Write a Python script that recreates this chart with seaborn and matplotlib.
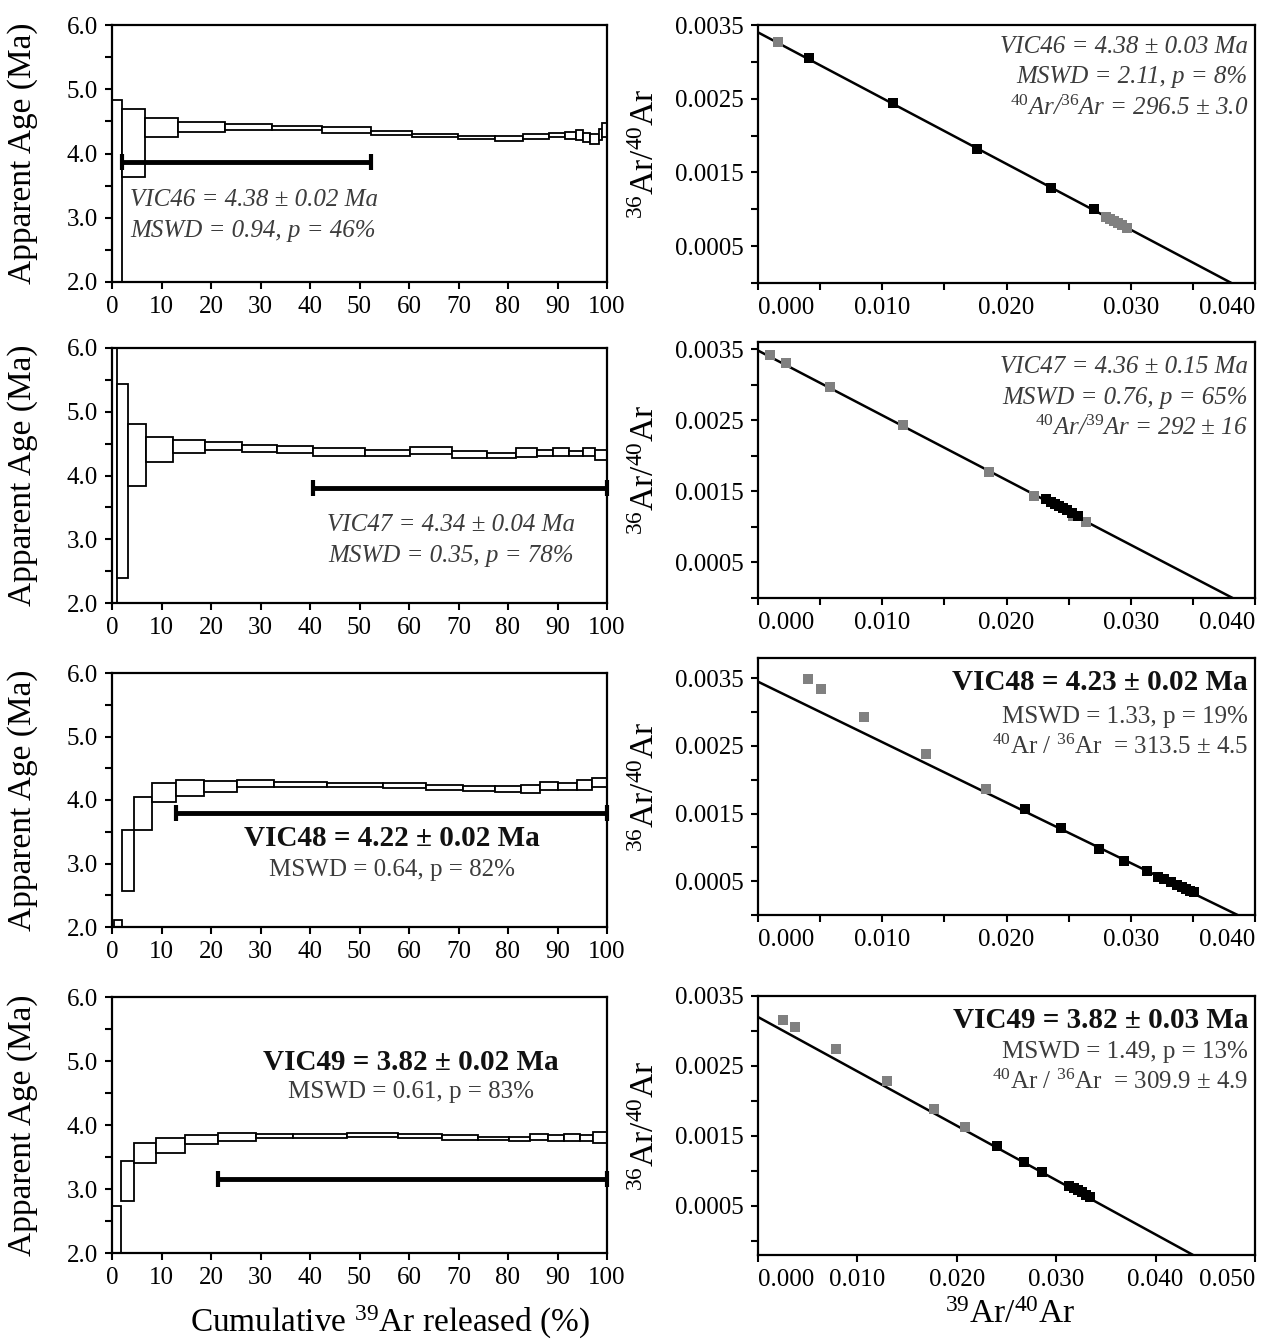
import numpy as np
import pandas as pd
import matplotlib
matplotlib.use('Agg')
import matplotlib.pyplot as plt
import seaborn as sns
from matplotlib.ticker import MultipleLocator, FixedLocator, FormatStrFormatter

sns.set_theme(style='ticks')
plt.rcParams['font.family'] = ['Liberation Serif', 'DejaVu Serif']
plt.rcParams['mathtext.fontset'] = 'custom'
plt.rcParams['mathtext.rm'] = 'Liberation Serif'
plt.rcParams['mathtext.it'] = 'Liberation Serif:italic'
plt.rcParams['mathtext.bf'] = 'Liberation Serif:bold'

# ---------------- age spectra (cumulative 39Ar %, apparent age Ma) ----------------
vic46_edges = [0, 2, 6.7, 13.3, 22.8, 32.4, 42.5, 52.4, 60.7, 69.9, 77.4, 83.1, 88.2, 91.5, 93.7, 95.2, 96.6, 98.3, 99.0, 100]
vic46_hi = [4.84, 4.69, 4.56, 4.49, 4.46, 4.43, 4.41, 4.35, 4.31, 4.28, 4.27, 4.30, 4.32, 4.34, 4.36, 4.32, 4.31, 4.38, 4.47]
vic46_lo = [1.00, 3.64, 4.25, 4.33, 4.37, 4.37, 4.32, 4.29, 4.25, 4.23, 4.19, 4.23, 4.25, 4.22, 4.21, 4.18, 4.15, 4.21, 4.26]
vic46_plateau = [2.0, 52.4, 3.86]

vic47_edges = [0, 1, 3.3, 6.9, 12.4, 18.8, 26.2, 33.4, 40.7, 51.1, 60.3, 68.6, 75.7, 81.6, 85.9, 89.0, 92.4, 95.2, 97.6, 100]
vic47_hi = [7.50, 5.44, 4.81, 4.60, 4.55, 4.52, 4.48, 4.47, 4.43, 4.40, 4.45, 4.38, 4.36, 4.43, 4.40, 4.43, 4.39, 4.43, 4.40]
vic47_lo = [0.50, 2.40, 3.84, 4.21, 4.36, 4.40, 4.37, 4.35, 4.30, 4.30, 4.34, 4.27, 4.27, 4.29, 4.31, 4.30, 4.31, 4.30, 4.25]
vic47_plateau = [40.7, 100.0, 3.81]

vic48_edges = [0.5, 2, 4.5, 8.1, 12.9, 18.6, 25.2, 32.7, 43.5, 54.7, 63.4, 71.0, 77.4, 82.6, 86.5, 90.2, 93.9, 96.9, 100]
vic48_hi = [2.11, 3.52, 4.04, 4.27, 4.31, 4.30, 4.31, 4.28, 4.27, 4.26, 4.23, 4.22, 4.22, 4.23, 4.28, 4.27, 4.31, 4.34]
vic48_lo = [1.00, 2.56, 3.53, 3.97, 4.07, 4.13, 4.20, 4.20, 4.20, 4.19, 4.15, 4.14, 4.13, 4.11, 4.15, 4.15, 4.15, 4.20]
vic48_plateau = [12.9, 100.0, 3.80]

vic49_edges = [0, 1.8, 4.5, 8.8, 14.7, 21.5, 29.1, 36.5, 47.4, 57.7, 66.7, 74.0, 80.3, 84.4, 88.0, 91.4, 94.5, 97.2, 100]
vic49_hi = [2.74, 3.44, 3.72, 3.80, 3.85, 3.875, 3.86, 3.86, 3.875, 3.86, 3.85, 3.82, 3.81, 3.86, 3.85, 3.86, 3.85, 3.89]
vic49_lo = [1.00, 2.82, 3.41, 3.56, 3.70, 3.75, 3.79, 3.80, 3.81, 3.80, 3.77, 3.76, 3.745, 3.76, 3.75, 3.75, 3.75, 3.72]
vic49_plateau = [21.5, 100.0, 3.16]

# ---------------- isochrons (39Ar/40Ar, 36Ar/40Ar) ----------------
vic46_xb = [0.00411, 0.01089, 0.01766, 0.02355, 0.02702]
vic46_yb = [0.00305, 0.00244, 0.00182, 0.00129, 0.00101]
vic46_xg = [0.00161, 0.02798, 0.02831, 0.02863, 0.02895, 0.02927, 0.02968]
vic46_yg = [0.00327, 0.000899, 0.000870, 0.000844, 0.000814, 0.000790, 0.000750]
vic46_line = [0.00340, 0.0381]   # y-intercept, x-intercept

vic47_xb = [0.02315, 0.02355, 0.02387, 0.02419, 0.02452, 0.02484, 0.02524, 0.02573]
vic47_yb = [0.001388, 0.001351, 0.001322, 0.001292, 0.001263, 0.001233, 0.001195, 0.001152]
vic47_xg = [0.00097, 0.00226, 0.00581, 0.01169, 0.01863, 0.02218, 0.02532, 0.02637]
vic47_yg = [0.003417, 0.003305, 0.002967, 0.002433, 0.001772, 0.001434, 0.001153, 0.001069]
vic47_line = [0.00348, 0.0382]

vic48_xb = [0.02145, 0.02435, 0.02742, 0.02944, 0.03129, 0.03218, 0.03266, 0.03323, 0.03371, 0.03411, 0.03444, 0.03476, 0.03508]
vic48_yb = [0.001567, 0.001286, 0.000976, 0.000798, 0.000651, 0.000562, 0.000532, 0.000488, 0.000444, 0.000414, 0.000384, 0.000355, 0.000340]
vic48_xg = [0.00403, 0.00508, 0.00855, 0.01355, 0.01831]
vic48_yg = [0.003489, 0.003342, 0.002928, 0.002381, 0.001863]
vic48_line = [0.00345, 0.0386]

vic49_xb = [0.02404, 0.02677, 0.02859, 0.03131, 0.03182, 0.03222, 0.03263, 0.03303, 0.03343]
vic49_yb = [0.001357, 0.001129, 0.000986, 0.000786, 0.000757, 0.000729, 0.000700, 0.000657, 0.000629]
vic49_xg = [0.00253, 0.00374, 0.00788, 0.01293, 0.01768, 0.02081]
vic49_yg = [0.003157, 0.003057, 0.002743, 0.002286, 0.001886, 0.001629]
vic49_line = [0.00320, 0.0412]

iso_ticks_a = [0.000, 0.010, 0.020, 0.030, 0.040]
iso_ticks_b = [0.000, 0.010, 0.020, 0.030, 0.040, 0.050]

W, H = 1264, 1341
fig = plt.figure(figsize=(W / 100, H / 100), dpi=100, facecolor='white')


def add_ax(left, right, top, bottom):
    return fig.add_axes([left / W, 1 - bottom / H, (right - left) / W, (bottom - top) / H])


def style_ax(ax):
    for s in ax.spines.values():
        s.set_visible(True)
        s.set_linewidth(1.6)
        s.set_color('black')
    ax.tick_params(which='both', direction='out', length=5, width=1.5, color='black',
                   labelsize=18, pad=5, labelcolor='black')
    ax.set_facecolor('white')


TXT = '#3c3c3c'
LBL = 24


def spectrum(ax, edges, hi, lo, plateau):
    e = np.array(edges)
    hi = np.array(hi)
    lo = np.array(lo)
    ax.bar(e[:-1], hi - lo, width=np.diff(e), bottom=lo, align='edge',
           facecolor='white', edgecolor='black', linewidth=1.3, zorder=2)
    x0, x1, age = plateau
    eb = ax.errorbar((x0 + x1) / 2, age, xerr=(x1 - x0) / 2, fmt='none', ecolor='black',
                     elinewidth=3.5, capsize=6, capthick=3, zorder=4)
    for art in eb.lines[1] + eb.lines[2]:
        art.set_clip_on(False)
    ax.set_xlim(0, 100)
    ax.set_ylim(2, 6)
    ax.xaxis.set_major_locator(MultipleLocator(10))
    ax.yaxis.set_major_locator(MultipleLocator(1.0))
    ax.yaxis.set_minor_locator(MultipleLocator(0.5))
    ax.yaxis.set_major_formatter(FormatStrFormatter('%.1f'))
    style_ax(ax)
    ax.set_ylabel('Apparent Age (Ma)', fontsize=LBL, color='black')
    ax.yaxis.set_label_coords(-0.15, 0.5)


def isochron(ax, xb, yb, xg, yg, line, xticks, ylim, xminor):
    sns.scatterplot(x=xg, y=yg, color='#808080', marker='s', s=60, linewidth=0, ax=ax, zorder=3)
    sns.scatterplot(x=xb, y=yb, color='black', marker='s', s=60, linewidth=0, ax=ax, zorder=4)
    y0, x0 = line
    ax.axline((0, y0), (x0, 0), color='black', linewidth=1.8, zorder=2)
    ax.set_xlim(xticks[0], xticks[-1])
    ax.set_ylim(*ylim)
    ax.xaxis.set_major_locator(FixedLocator(xticks))
    if xminor:
        ax.xaxis.set_minor_locator(MultipleLocator(xminor))
    ax.xaxis.set_major_formatter(FormatStrFormatter('%.3f'))
    ax.yaxis.set_major_locator(FixedLocator([0.0005, 0.0015, 0.0025, 0.0035]))
    ax.yaxis.set_minor_locator(FixedLocator([0.0, 0.001, 0.002, 0.003]))
    ax.yaxis.set_major_formatter(FormatStrFormatter('%.4f'))
    style_ax(ax)
    ticks = ax.xaxis.get_major_ticks()
    ticks[0].label1.set_horizontalalignment('left')
    ticks[len(xticks) - 1].label1.set_horizontalalignment('right')
    ax.set_ylabel(r'$^{36}$Ar/$^{40}$Ar', fontsize=LBL, color='black')
    ax.yaxis.set_label_coords(-0.195, 0.5)


L = (112, 607)
R = (758, 1255)
left_rows = [(25, 282), (348, 603), (673, 927), (997, 1253)]
right_rows = [(25, 283), (342, 598), (658, 915), (996, 1255)]

# ---- left column ----
ax = add_ax(L[0], L[1], *left_rows[0])
spectrum(ax, vic46_edges, vic46_hi, vic46_lo, vic46_plateau)
ax.text(3.6, 3.27, 'VIC46 = 4.38 ± 0.02 Ma', style='italic', fontsize=18, color=TXT, ha='left', va='center')
ax.text(3.6, 2.79, 'MSWD = 0.94, p = 46%', style='italic', fontsize=18, color=TXT, ha='left', va='center')

ax = add_ax(L[0], L[1], *left_rows[1])
spectrum(ax, vic47_edges, vic47_hi, vic47_lo, vic47_plateau)
ax.text(43.4, 3.23, 'VIC47 = 4.34 ± 0.04 Ma', style='italic', fontsize=18, color=TXT, ha='left', va='center')
ax.text(43.6, 2.73, 'MSWD = 0.35, p = 78%', style='italic', fontsize=18, color=TXT, ha='left', va='center')

ax = add_ax(L[0], L[1], *left_rows[2])
spectrum(ax, vic48_edges, vic48_hi, vic48_lo, vic48_plateau)
ax.text(56.5, 3.39, 'VIC48 = 4.22 ± 0.02 Ma', weight='bold', fontsize=21, color='#111111', ha='center', va='center')
ax.text(56.6, 2.89, 'MSWD = 0.64, p = 82%', fontsize=18, color=TXT, ha='center', va='center')

ax = add_ax(L[0], L[1], *left_rows[3])
spectrum(ax, vic49_edges, vic49_hi, vic49_lo, vic49_plateau)
ax.text(60.4, 4.97, 'VIC49 = 3.82 ± 0.02 Ma', weight='bold', fontsize=21, color='#111111', ha='center', va='center')
ax.text(60.5, 4.52, 'MSWD = 0.61, p = 83%', fontsize=18, color=TXT, ha='center', va='center')
ax.set_xlabel(r'Cumulative $^{39}$Ar released (%)', fontsize=LBL, color='black')
ax.xaxis.set_label_coords(0.562, -0.2)

# ---- right column ----
ax = add_ax(R[0], R[1], *right_rows[0])
isochron(ax, vic46_xb, vic46_yb, vic46_xg, vic46_yg, vic46_line, iso_ticks_a, (0, 0.0035), 0.005)
for yy, t in zip([0.915, 0.798, 0.678],
                 ['VIC46 = 4.38 ± 0.03 Ma', 'MSWD = 2.11, p = 8%', r'$^{40}$Ar/$^{36}$Ar = 296.5 ± 3.0']):
    ax.text(0.986, yy, t, transform=ax.transAxes, style='italic', fontsize=18, color=TXT, ha='right', va='center')

ax = add_ax(R[0], R[1], *right_rows[1])
isochron(ax, vic47_xb, vic47_yb, vic47_xg, vic47_yg, vic47_line, iso_ticks_a, (0, 0.0036), 0.005)
for yy, t in zip([0.902, 0.781, 0.664],
                 ['VIC47 = 4.36 ± 0.15 Ma', 'MSWD = 0.76, p = 65%', r'$^{40}$Ar/$^{39}$Ar = 292 ± 16']):
    ax.text(0.986, yy, t, transform=ax.transAxes, style='italic', fontsize=18, color=TXT, ha='right', va='center')

ax = add_ax(R[0], R[1], *right_rows[2])
isochron(ax, vic48_xb, vic48_yb, vic48_xg, vic48_yg, vic48_line, iso_ticks_a, (0, 0.0038), 0.005)
ax.text(0.986, 0.903, 'VIC48 = 4.23 ± 0.02 Ma', transform=ax.transAxes, weight='bold', fontsize=21, color='#111111', ha='right', va='center')
ax.text(0.986, 0.770, 'MSWD = 1.33, p = 19%', transform=ax.transAxes, fontsize=18, color=TXT, ha='right', va='center')
ax.text(0.986, 0.654, r'$^{40}$Ar / $^{36}$Ar  = 313.5 ± 4.5', transform=ax.transAxes, fontsize=18, color=TXT, ha='right', va='center')

ax = add_ax(R[0], R[1], *right_rows[3])
isochron(ax, vic49_xb, vic49_yb, vic49_xg, vic49_yg, vic49_line, iso_ticks_b, (-0.0002, 0.0035), None)
ax.text(0.986, 0.907, 'VIC49 = 3.82 ± 0.03 Ma', transform=ax.transAxes, weight='bold', fontsize=21, color='#111111', ha='right', va='center')
ax.text(0.986, 0.784, 'MSWD = 1.49, p = 13%', transform=ax.transAxes, fontsize=18, color=TXT, ha='right', va='center')
ax.text(0.986, 0.668, r'$^{40}$Ar / $^{36}$Ar  = 309.9 ± 4.9', transform=ax.transAxes, fontsize=18, color=TXT, ha='right', va='center')
ax.set_xlabel(r'$^{39}$Ar/$^{40}$Ar', fontsize=LBL, color='black')
ax.xaxis.set_label_coords(0.507, -0.17)

fig.savefig('out.png', dpi=100, facecolor='white')
